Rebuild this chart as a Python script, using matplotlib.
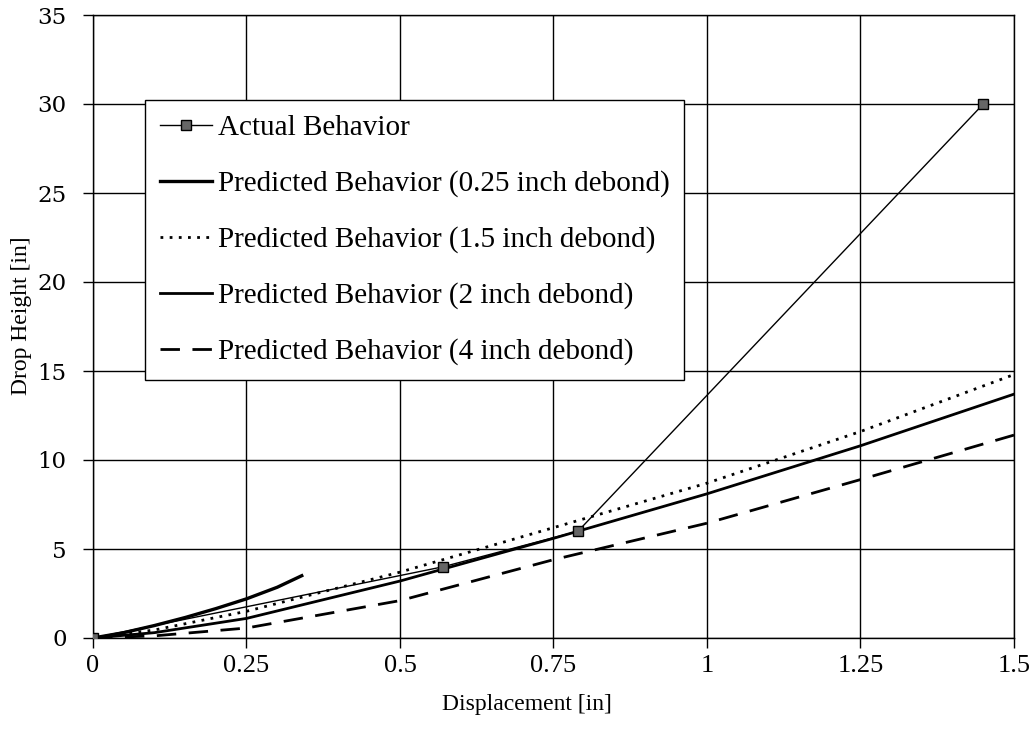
import numpy as np
import matplotlib
matplotlib.use('Agg')
import matplotlib.pyplot as plt

plt.rcParams['font.family'] = ['Liberation Serif', 'DejaVu Serif']

# measured drop tests
actual_x = [0.0, 0.57, 0.79, 1.45]
actual_y = [0.0, 4.0, 6.0, 30.0]

# predicted curves
pred025_x = [0.0, 0.05, 0.10, 0.15, 0.20, 0.25, 0.30, 0.34]
pred025_y = [0.0, 0.3, 0.7, 1.15, 1.65, 2.2, 2.85, 3.5]

pred15_x = [0.0, 0.10, 0.25, 0.50, 0.75, 1.00, 1.25, 1.50]
pred15_y = [0.0, 0.45, 1.5, 3.7, 6.2, 8.7, 11.6, 14.8]

pred2_x = [0.0, 0.10, 0.25, 0.50, 0.75, 1.00, 1.25, 1.50]
pred2_y = [0.0, 0.3, 1.1, 3.2, 5.6, 8.1, 10.8, 13.7]

pred4_x = [0.0, 0.10, 0.25, 0.50, 0.75, 1.00, 1.25, 1.50]
pred4_y = [0.0, 0.12, 0.56, 2.1, 4.4, 6.45, 8.9, 11.4]

x_ticks = [0, 0.25, 0.5, 0.75, 1, 1.25, 1.5]
x_ticklabels = ['0', '0.25', '0.5', '0.75', '1', '1.25', '1.5']
y_ticks = [0, 5, 10, 15, 20, 25, 30, 35]

fig = plt.figure(figsize=(10.34, 7.43), dpi=100)
ax = fig.add_axes([93/1034, 105/743, 921/1034, 623/743])

ax.plot(actual_x, actual_y, color='black', lw=1.0, marker='s', markersize=6.5,
        markerfacecolor='#666666', markeredgecolor='black', markeredgewidth=1.0,
        label='Actual Behavior', zorder=5)
ax.plot(pred025_x, pred025_y, color='black', lw=2.4,
        label='Predicted Behavior (0.25 inch debond)')
ax.plot(pred15_x, pred15_y, color='black', lw=2.0, linestyle=(0, (1, 2.3)),
        label='Predicted Behavior (1.5 inch debond)')
ax.plot(pred2_x, pred2_y, color='black', lw=2.0,
        label='Predicted Behavior (2 inch debond)')
ax.plot(pred4_x, pred4_y, color='black', lw=2.0, linestyle=(0, (7, 4.5)),
        label='Predicted Behavior (4 inch debond)')

ax.set_xlim(0, 1.5)
ax.set_ylim(0, 35)
ax.set_xticks(x_ticks)
ax.set_xticklabels(x_ticklabels)
ax.set_yticks(y_ticks)
ax.grid(True, color='black', lw=1.0)
ax.set_axisbelow(True)
for s in ax.spines.values():
    s.set_color('black')
    s.set_linewidth(1.0)
ax.tick_params(axis='x', direction='out', length=7, width=1.0, labelsize=19, pad=5)
ax.tick_params(axis='y', direction='out', length=7, width=1.0, labelsize=16.5, pad=12)
for lbl in ax.get_yticklabels():
    lbl.set_family('DejaVu Serif')

ax.set_xlabel('Displacement [in]', fontsize=17, labelpad=12)
ax.set_ylabel('Drop Height [in]', fontsize=17, labelpad=2)
ax.xaxis.set_label_coords(0.471, -0.09)
ax.yaxis.set_label_coords(-0.066, 0.517)

leg = ax.legend(loc='upper left', bbox_to_anchor=((145-93)/921, (638-100)/623),
                borderaxespad=0, fontsize=21, frameon=True, fancybox=False,
                edgecolor='black', framealpha=1, handlelength=1.8,
                handletextpad=0.2, labelspacing=1.0, borderpad=0.5, numpoints=1)
leg.get_frame().set_linewidth(1.0)

fig.savefig('out.png', dpi=100, facecolor='white')
